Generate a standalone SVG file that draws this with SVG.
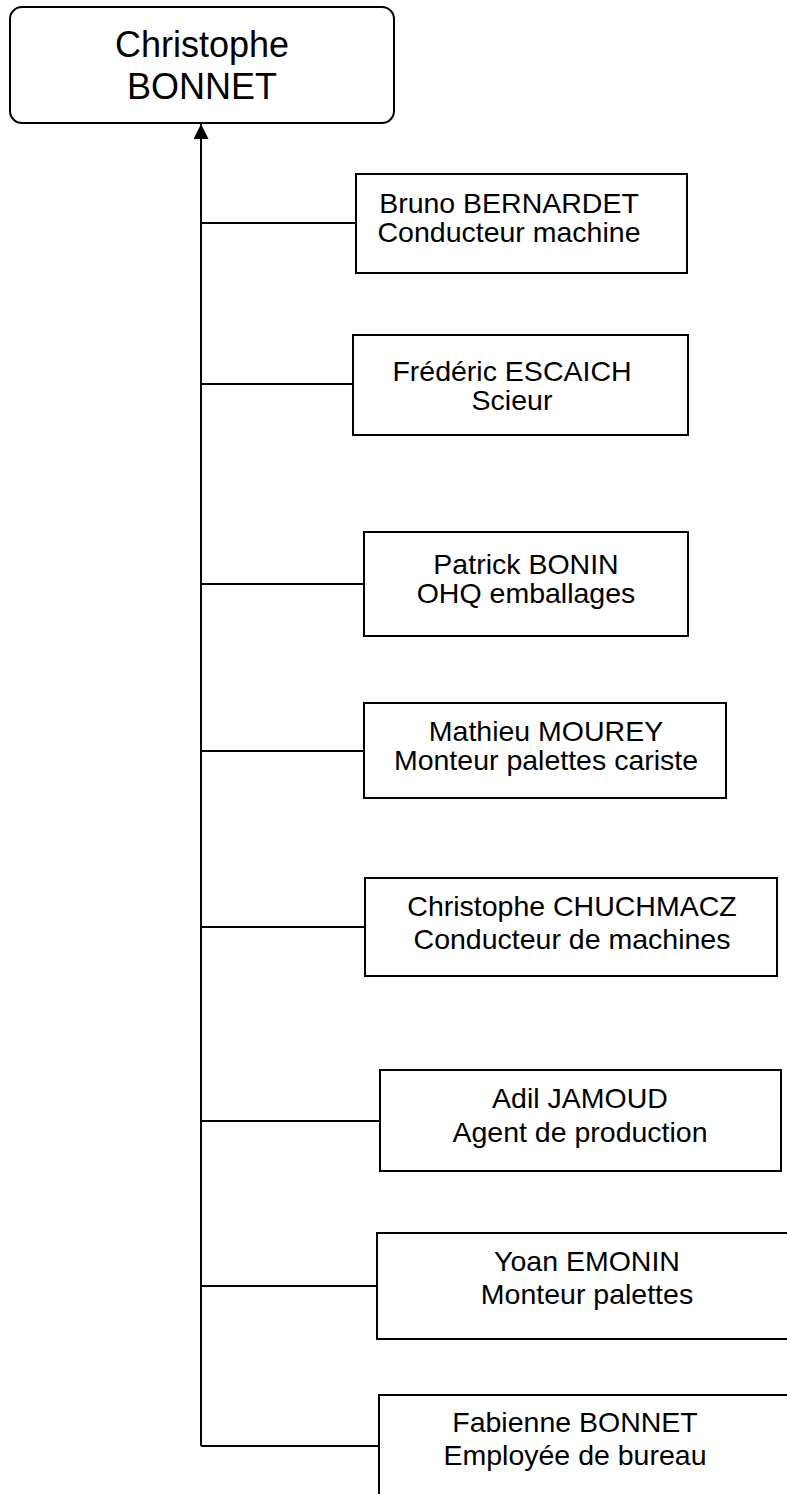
<svg xmlns="http://www.w3.org/2000/svg" width="787" height="1494" viewBox="0 0 787 1494">
<style>
.box{fill:#fff;stroke:#000;stroke-width:2}
.t{font-family:"Liberation Sans",Arial,sans-serif;font-size:28.5px;fill:#000;text-anchor:middle}
.tt{font-family:"Liberation Sans",Arial,sans-serif;font-size:36px;fill:#000;text-anchor:middle}
.c{stroke:#000;stroke-width:2;fill:none}
</style>
<defs>
<marker id="arr" markerUnits="userSpaceOnUse" markerWidth="16" markerHeight="16" refX="15" refY="7.5" orient="auto">
<path d="M0,0 L15,7.5 L0,15 Z" fill="#000"/>
</marker>
</defs>
<rect width="787" height="1494" fill="#fff"/>
<g id="connectors">
<path class="c" d="M201,1446 V124" marker-end="url(#arr)"/>
<path class="c" d="M201,223 H356"/>
<path class="c" d="M201,384 H353"/>
<path class="c" d="M201,584 H364"/>
<path class="c" d="M201,751 H364"/>
<path class="c" d="M201,927 H365"/>
<path class="c" d="M201,1121 H380"/>
<path class="c" d="M201,1286 H377"/>
<path class="c" d="M201,1446 H379"/>
</g>
<g id="n0">
<rect class="box" x="10" y="7" width="384" height="116" rx="12"/>
<text class="tt" x="202" y="57">Christophe</text>
<text class="tt" x="202" y="99">BONNET</text>
</g>
<g id="n1">
<rect class="box" x="356" y="174" width="331" height="99"/>
<text class="t" x="509" y="213">Bruno BERNARDET</text>
<text class="t" x="509" y="242">Conducteur machine</text>
</g>
<g id="n2">
<rect class="box" x="353" y="335" width="335" height="100"/>
<text class="t" x="512" y="381">Frédéric ESCAICH</text>
<text class="t" x="512" y="410">Scieur</text>
</g>
<g id="n3">
<rect class="box" x="364" y="532" width="324" height="104"/>
<text class="t" x="526" y="574">Patrick BONIN</text>
<text class="t" x="526" y="603">OHQ emballages</text>
</g>
<g id="n4">
<rect class="box" x="364" y="703" width="362" height="95"/>
<text class="t" x="546" y="741">Mathieu MOUREY</text>
<text class="t" x="546" y="770">Monteur palettes cariste</text>
</g>
<g id="n5">
<rect class="box" x="365" y="878" width="412" height="98"/>
<text class="t" x="572" y="916">Christophe CHUCHMACZ</text>
<text class="t" x="572" y="949">Conducteur de machines</text>
</g>
<g id="n6">
<rect class="box" x="380" y="1070" width="401" height="101"/>
<text class="t" x="580" y="1108">Adil JAMOUD</text>
<text class="t" x="580" y="1142">Agent de production</text>
</g>
<g id="n7">
<rect class="box" x="377" y="1233" width="420" height="106"/>
<text class="t" x="587" y="1271">Yoan EMONIN</text>
<text class="t" x="587" y="1304">Monteur palettes</text>
</g>
<g id="n8">
<rect class="box" x="379" y="1395" width="420" height="110"/>
<text class="t" x="575" y="1432">Fabienne BONNET</text>
<text class="t" x="575" y="1465">Employée de bureau</text>
</g>
</svg>
